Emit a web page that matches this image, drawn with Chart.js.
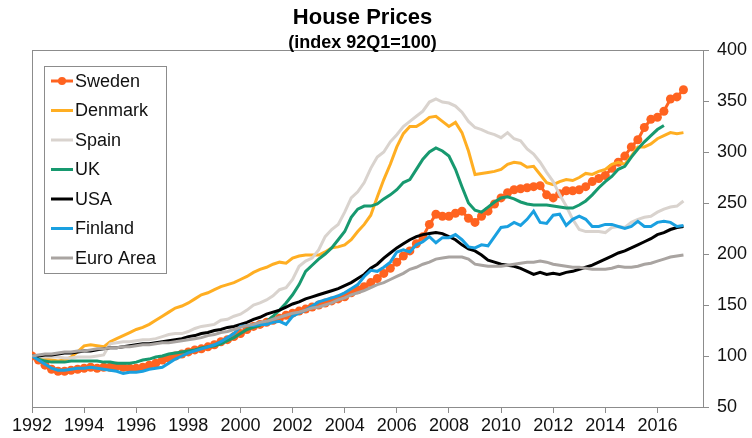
<!DOCTYPE html>
<html>
<head>
<meta charset="utf-8">
<script src="https://cdn.jsdelivr.net/npm/chart.js@4.4.1/dist/chart.umd.min.js"></script>
<style>
  html, body { margin: 0; padding: 0; background: #fff; }
  canvas { display: block; }
</style>
</head>
<body>
<canvas id="chart" width="752" height="438"></canvas>
<script>
// quarterly index, 1992Q1 = 100
const firstYear = 1992;

const sweden = [
  100, 96, 91, 87,   85, 85, 86, 87,   88, 89, 88, 89,   89, 90, 89, 88,
  88, 89, 91, 93,    96, 98, 100, 102, 104, 106, 107, 109, 111, 114, 116, 119,
  122, 126, 129, 131, 133, 135, 137, 140, 142, 144, 146, 148, 150, 152, 154, 156,
  158, 162, 165, 168, 172, 176, 181, 186, 192, 198, 203, 210, 217, 229, 239, 237,
  237, 240, 242, 235, 231, 237, 242, 249, 255, 260, 263, 264, 265, 266, 267, 258,
  255, 259, 262, 262, 263, 266, 271, 274, 277, 284, 290, 296, 305, 312, 324, 332,
  334, 340, 352, 354, 361
];
const denmark = [
  100, 98, 97, 96,   95, 96, 99, 104,  110, 111, 110, 109, 114, 117, 120, 123,
  126, 128, 131, 135, 139, 143, 147, 149, 152, 156, 160, 162, 165, 168, 170, 172,
  175, 178, 182, 185, 187, 190, 192, 191, 196, 198, 199, 199, 199, 202, 206, 207,
  209, 214, 222, 229, 238, 256, 273, 288, 305, 318, 325, 325, 329, 334, 335, 330,
  325, 329, 319, 301, 278, 279, 280, 281, 283, 288, 290, 289, 285, 286, 278, 270,
  268, 271, 273, 272, 275, 279, 278, 281, 283, 288, 290, 288, 296, 305, 305, 308,
  313, 316, 319, 318, 319
];
const spain = [
  100, 99, 99, 99,   99, 98, 98, 99,   99, 99, 100, 101, 112, 113, 114, 114,
  115, 116, 116, 117, 119, 121, 122, 122, 124, 127, 129, 130, 131, 135, 136, 139,
  141, 145, 150, 152, 155, 159, 165, 167, 175, 188, 193, 196, 204, 217, 224, 229,
  241, 255, 261, 270, 284, 295, 300, 310, 317, 325, 330, 335, 340, 349, 352, 349,
  348, 345, 339, 330, 324, 322, 319, 317, 314, 319, 313, 311, 303, 298, 290, 280,
  271, 258, 247, 234, 224, 222, 222, 222, 221, 226, 227, 226, 231, 234, 236, 237,
  241, 244, 246, 247, 252
];
const uk = [
  100, 97, 95, 94,   94, 94, 95, 95,   95, 95, 95, 94,   94, 93, 93, 93,
  94, 96, 97, 99,    100, 102, 103, 104, 105, 106, 108, 109, 110, 112, 115, 118,
  122, 126, 128, 130, 134, 139, 145, 152, 160, 170, 183, 189, 195, 200, 206, 214,
  222, 236, 244, 247, 247, 249, 254, 258, 263, 270, 273, 283, 293, 300, 304, 301,
  296, 283, 266, 250, 243, 241, 246, 251, 255, 256, 254, 251, 249, 248, 248, 248,
  247, 246, 245, 245, 248, 252, 258, 265, 271, 276, 283, 286, 295, 303, 310, 316,
  322, 326
];
const usa = [
  100, 100, 101, 101, 102, 103, 103, 104, 105, 105, 106, 107, 108, 108, 109, 110,
  111, 112, 112, 113, 114, 115, 116, 117, 119, 120, 122, 123, 125, 126, 128, 129,
  131, 133, 136, 138, 141, 143, 145, 148, 151, 153, 156, 158, 160, 162, 164, 166,
  169, 172, 176, 180, 186, 190, 196, 201, 206, 210, 214, 217, 219, 220, 221, 220,
  217, 214, 209, 205, 203, 199, 194, 192, 190, 189, 188, 186, 183, 180, 182, 180,
  181, 180, 182, 183, 185, 187, 189, 192, 195, 198, 201, 203, 206, 209, 212, 215,
  219, 221, 224, 226, 227
];
const finland = [
  100, 96, 92, 88,   86, 86, 87, 88,   88, 89, 88, 87,   86, 85, 83, 84,
  84, 85, 87, 88,    89, 93, 97, 100,  103, 105, 107, 109, 111, 114, 118, 122,
  129, 130, 130, 131, 131, 133, 134, 131, 139, 142, 145, 149, 153, 155, 157, 159,
  162, 166, 170, 178, 184, 183, 187, 192, 202, 204, 202, 209, 212, 217, 211, 216,
  216, 219, 214, 207, 206, 209, 208, 217, 226, 227, 231, 228, 234, 242, 231, 230,
  238, 239, 228, 234, 237, 234, 227, 227, 229, 229, 227, 225, 227, 232, 227, 227,
  231, 232, 231, 227, 228
];
const euroArea = [
  100, 101, 102, 102, 103, 104, 104, 105, 105, 106, 107, 107, 108, 108, 109, 109,
  110, 111, 111, 112, 113, 113, 114, 115, 116, 117, 118, 120, 121, 123, 124, 126,
  128, 130, 131, 133, 134, 136, 138, 140, 142, 143, 145, 147, 148, 150, 152, 155,
  157, 160, 162, 164, 167, 170, 172, 175, 178, 181, 185, 187, 190, 192, 195, 196,
  197, 197, 197, 195, 190, 189, 188, 188, 188, 189, 190, 191, 192, 192, 193, 192,
  190, 189, 188, 187, 187, 186, 185, 185, 185, 186, 188, 187, 187, 188, 190, 191,
  193, 195, 197, 198, 199
];

const seriesNames = ['Sweden', 'Denmark', 'Spain', 'UK', 'USA', 'Finland', 'Euro Area'];
const seriesValues = [sweden, denmark, spain, uk, usa, finland, euroArea];
const seriesColors = ['#ff6320', '#ffae22', '#d9d3ce', '#17996f', '#000000', '#1aa0e0', '#a9a4a1'];

const FONT = '"Liberation Sans", Arial, sans-serif';
const AXIS_GRAY = '#8c8c8c';

function toPoints(values) {
  return values.map((v, i) => ({ x: firstYear + i / 4, y: v }));
}

// plot area frame (Excel style box)
const plotFrame = {
  id: 'plotFrame',
  beforeDatasetsDraw(chart) {
    const { ctx, chartArea: a } = chart;
    ctx.save();
    ctx.strokeStyle = AXIS_GRAY;
    ctx.lineWidth = 1;
    ctx.strokeRect(Math.round(a.left) + 0.5, Math.round(a.top) + 0.5,
      Math.round(a.right - a.left), Math.round(a.bottom - a.top));
    ctx.restore();
  }
};

const titles = {
  id: 'titles',
  afterDraw(chart) {
    const { ctx, chartArea: a } = chart;
    const cx = (a.left + a.right) / 2 - 5;
    ctx.save();
    ctx.fillStyle = '#000';
    ctx.textAlign = 'center';
    ctx.textBaseline = 'middle';
    ctx.font = 'bold 22px ' + FONT;
    ctx.fillText('House Prices', cx, 18);
    ctx.font = 'bold 18px ' + FONT;
    ctx.fillText('(index 92Q1=100)', cx, 43);
    ctx.restore();
  }
};

const legendBox = {
  id: 'legendBox',
  afterDraw(chart) {
    const { ctx, chartArea: a } = chart;
    const x = Math.round(a.left) + 12, y = Math.round(a.top) + 16;
    const w = 122, h = 207, rowH = 29.5;
    ctx.save();
    ctx.fillStyle = '#fff';
    ctx.fillRect(x, y, w, h);
    ctx.strokeStyle = AXIS_GRAY;
    ctx.lineWidth = 1;
    ctx.strokeRect(x + 0.5, y + 0.5, w, h);
    ctx.font = '18px ' + FONT;
    ctx.textBaseline = 'middle';
    chart.data.datasets.forEach((ds, i) => {
      const cy = y + 15 + i * rowH;
      ctx.strokeStyle = ds.borderColor;
      ctx.lineWidth = 3;
      ctx.beginPath();
      ctx.moveTo(x + 7, cy);
      ctx.lineTo(x + 29, cy);
      ctx.stroke();
      if (ds.pointRadius > 0) {
        ctx.fillStyle = ds.borderColor;
        ctx.beginPath();
        ctx.arc(x + 18, cy, 4, 0, Math.PI * 2);
        ctx.fill();
      }
      ctx.fillStyle = '#111';
      ctx.fillText(ds.label, x + 31, cy + 1);
    });
    ctx.restore();
  }
};

const datasets = seriesNames.map((name, i) => ({
  label: name,
  data: toPoints(seriesValues[i]),
  borderColor: seriesColors[i],
  backgroundColor: seriesColors[i],
  borderWidth: 3,
  pointRadius: name === 'Sweden' ? 4.5 : 0,
  pointBorderWidth: 0,
  tension: 0,
  order: seriesNames.length - i
}));

new Chart(document.getElementById('chart').getContext('2d'), {
  type: 'line',
  data: { datasets },
  options: {
    responsive: false,
    animation: false,
    layout: { padding: { left: 32, top: 50, right: 0, bottom: 0 } },
    plugins: {
      legend: { display: false },
      title: { display: false },
      tooltip: { enabled: false }
    },
    scales: {
      x: {
        type: 'linear',
        min: 1992,
        max: 2017.75,
        afterFit: (scale) => { scale.height = 31; },
        grid: { drawOnChartArea: false, drawTicks: true, tickLength: 6, color: AXIS_GRAY, tickColor: AXIS_GRAY },
        border: { display: true, color: AXIS_GRAY, width: 1 },
        ticks: {
          stepSize: 2,
          includeBounds: false,
          autoSkip: false,
          maxRotation: 0,
          padding: 2,
          color: '#111',
          font: { family: FONT, size: 18 },
          callback: (v) => String(v)
        }
      },
      y: {
        position: 'right',
        min: 50,
        max: 400,
        afterFit: (scale) => { scale.width = 49; },
        grid: { drawOnChartArea: false, drawTicks: true, tickLength: 6, color: AXIS_GRAY, tickColor: AXIS_GRAY },
        border: { display: true, color: AXIS_GRAY, width: 1 },
        ticks: {
          stepSize: 50,
          padding: 8,
          color: '#111',
          font: { family: FONT, size: 18 }
        }
      }
    }
  },
  plugins: [plotFrame, titles, legendBox]
});
</script>
</body>
</html>
